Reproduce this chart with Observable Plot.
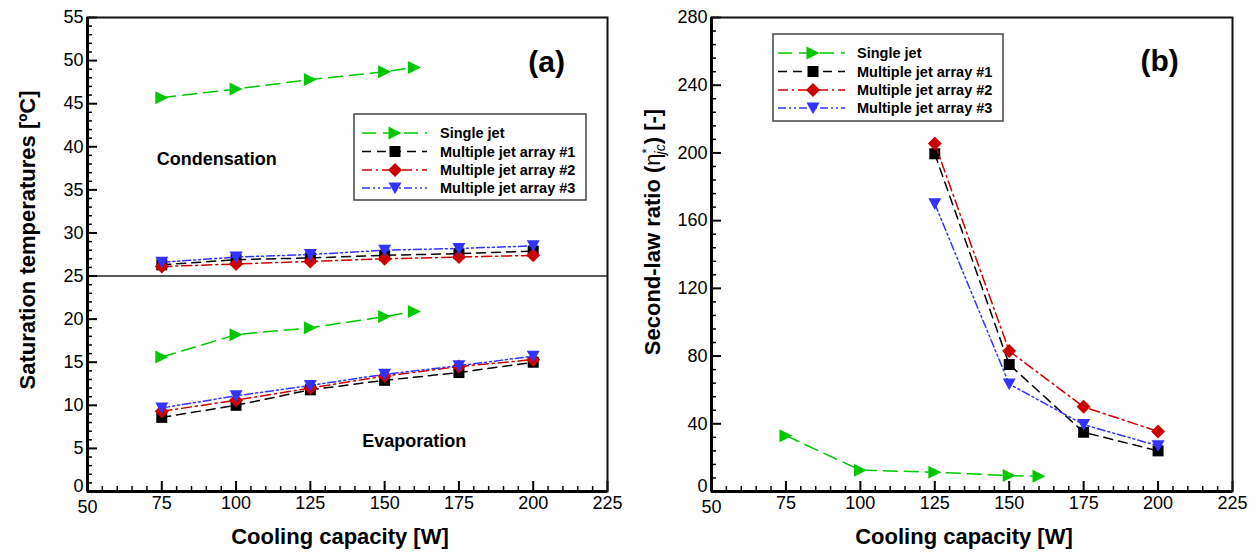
<!DOCTYPE html>
<html><head><meta charset="utf-8">
<script src="https://cdn.jsdelivr.net/npm/d3@7"></script>
<script src="https://cdn.jsdelivr.net/npm/@observablehq/plot@0.6"></script>
<style>
html,body{margin:0;padding:0;background:#fff;}
#wrap{position:relative;width:1256px;height:552px;display:flex;overflow:hidden;}
#wrap svg{display:block;}
</style></head><body><div id="wrap"></div>
<script>
// ---------- data ----------
const seriesNames = ["Single jet", "Multiple jet array #1", "Multiple jet array #2", "Multiple jet array #3"];
const capacity = [75, 100, 125, 150, 175, 200];
const singleCapacity = [75, 100, 125, 150, 160];
// (a) saturation temperatures [ºC]
const condSingle = [45.7, 46.7, 47.8, 48.7, 49.2];
const evapSingle = [15.6, 18.2, 19.0, 20.3, 20.9];
const condM1 = [26.3, 26.9, 27.1, 27.4, 27.6, 27.9];
const condM2 = [26.1, 26.4, 26.7, 27.0, 27.2, 27.4];
const condM3 = [26.6, 27.2, 27.5, 28.0, 28.2, 28.5];
const evapM1 = [8.6, 10.0, 11.8, 12.9, 13.8, 15.0];
const evapM2 = [9.3, 10.6, 12.0, 13.4, 14.5, 15.3];
const evapM3 = [9.7, 11.1, 12.3, 13.6, 14.6, 15.7];
// (b) second-law ratio
const ratioCapacity = [125, 150, 175, 200];
const ratioSingle = [33, 12.6, 11.4, 9.4, 9.0];
const ratioM1 = [199.5, 75, 35, 24];
const ratioM2 = [205.5, 83, 50, 35.5];
const ratioM3 = [170, 63.5, 39.5, 27];
// axes
const xMajorTicks = [50, 75, 100, 125, 150, 175, 200, 225];
const yMajorTicksA = [0, 5, 10, 15, 20, 25, 30, 35, 40, 45, 50, 55];
const yMajorTicksB = [0, 40, 80, 120, 160, 200, 240, 280];

// ---------- styles ----------
const FONT = "'Liberation Sans', Arial, Helvetica, sans-serif";
const colors = ["#00c800", "#000000", "#cc0000", "#3333ff"];
const dashes = ["14,7", "9,6", "10,4,2,4", "8,3,2,3,2,3"];
const symTriRight = {draw(c, s){const r=Math.sqrt(s/Math.PI); c.moveTo(-r,-r); c.lineTo(r,0); c.lineTo(-r,r); c.closePath();}};
const symSquare = {draw(c, s){const r=Math.sqrt(s/Math.PI); c.rect(-r,-r,2*r,2*r);}};
const symDiamond = {draw(c, s){const r=Math.sqrt(s/Math.PI); c.moveTo(0,-r); c.lineTo(r,0); c.lineTo(0,r); c.lineTo(-r,0); c.closePath();}};
const symTriDown = {draw(c, s){const r=Math.sqrt(s/Math.PI); c.moveTo(-r,-0.85*r); c.lineTo(r,-0.85*r); c.lineTo(0,0.95*r); c.closePath();}};
const symbols = [symTriRight, symSquare, symDiamond, symTriDown];
const radii = [6.5, 5.5, 7, 6.5];

const rows = (xs, ys, g) => xs.map((x, i) => ({x, y: ys[i], g}));

function seriesMarks(data, i) {
  return [
    Plot.line(data, {x: "x", y: "y", z: "g", stroke: colors[i], strokeWidth: 1.5, strokeDasharray: dashes[i]}),
    Plot.dot(data, {x: "x", y: "y", symbol: symbols[i], r: radii[i], fill: colors[i], stroke: "none"})
  ];
}

function frameMarks(innerW, innerH, yMajor, yStep, yMax) {
  const xMinor = d3.range(50, 226, 5).filter(v => v % 25 !== 0);
  const yMinor = d3.range(0, yMax + 0.001, yStep).filter(v => !yMajor.includes(v));
  return [
    Plot.tickX(xMinor, {x: d => d, insetTop: innerH - 5, strokeWidth: 1.5}),
    Plot.tickX(xMajorTicks, {x: d => d, insetTop: innerH - 10, strokeWidth: 2}),
    Plot.tickY(yMinor, {y: d => d, insetRight: innerW - 5, strokeWidth: 1.5}),
    Plot.tickY(yMajor, {y: d => d, insetRight: innerW - 10, strokeWidth: 2}),
    Plot.frame({stroke: "#111", strokeWidth: 2}),
    Plot.ruleX([50], {strokeWidth: 3}),
    Plot.ruleY([0], {strokeWidth: 3}),
    Plot.axisX(xMajorTicks.slice(1), {tickSize: 0, tickPadding: 5, fontSize: 18, label: null}),
    Plot.axisX(xMajorTicks.slice(0, 1), {tickSize: 0, tickPadding: 5, dy: 4, fontSize: 18, label: null}),
    Plot.axisY(yMajor.slice(1), {tickSize: 0, tickPadding: 4, fontSize: 18, label: null}),
    Plot.axisY(yMajor.slice(0, 1), {tickSize: 0, tickPadding: 4, dy: -5, fontSize: 18, label: null})
  ];
}

function addLegend(svg, box, rowY, lx1, lx2, mx, tx) {
  const g = d3.select(svg).append("g");
  g.append("rect").attr("x", box[0]).attr("y", box[1]).attr("width", box[2]).attr("height", box[3])
    .attr("fill", "white").attr("stroke", "#444").attr("stroke-width", 1.5);
  seriesNames.forEach((name, i) => {
    const y = rowY[i];
    g.append("line").attr("x1", lx1).attr("x2", lx2).attr("y1", y).attr("y2", y)
      .attr("stroke", colors[i]).attr("stroke-width", 1.5).attr("stroke-dasharray", dashes[i]);
    g.append("path").attr("d", d3.symbol(symbols[i], radii[i] * radii[i] * Math.PI)())
      .attr("transform", `translate(${mx},${y})`).attr("fill", colors[i]);
    g.append("text").attr("x", tx).attr("y", y).attr("dy", "0.35em").attr("text-anchor", "start")
      .attr("font-size", 14.5).attr("font-weight", "bold").attr("font-family", FONT).attr("fill", "#000").text(name);
  });
}

function addText(svg, x, y, txt, size, rot) {
  const t = d3.select(svg).append("text")
    .attr("transform", `translate(${x},${y})` + (rot ? ` rotate(${rot})` : ""))
    .attr("text-anchor", "middle").attr("dy", "0.35em")
    .attr("font-size", size).attr("font-weight", "bold").attr("font-family", FONT).attr("fill", "#000");
  if (typeof txt === "string") t.text(txt);
  return t;
}

const W = 628, H = 552;
const wrap = document.getElementById("wrap");

// ---------- panel (a) ----------
{
  const mL = 87, mR = 21, mT = 17, mB = 61;
  const iw = W - mL - mR, ih = H - mT - mB;
  const data = [
    [...rows(singleCapacity, condSingle, "c"), ...rows(singleCapacity, evapSingle, "e")],
    [...rows(capacity, condM1, "c"), ...rows(capacity, evapM1, "e")],
    [...rows(capacity, condM2, "c"), ...rows(capacity, evapM2, "e")],
    [...rows(capacity, condM3, "c"), ...rows(capacity, evapM3, "e")]
  ];
  const notes = [
    {x: 93.5, y: 38.5, t: "Condensation", s: 18},
    {x: 160, y: 5.8, t: "Evaporation", s: 18},
    {x: 204.5, y: 49.8, t: "(a)", s: 30}
  ];
  const p = Plot.plot({
    width: W, height: H, marginLeft: mL, marginRight: mR, marginTop: mT, marginBottom: mB,
    style: {fontFamily: FONT, color: "#000", background: "#fff", overflow: "visible"},
    x: {domain: [50, 225]}, y: {domain: [0, 55]},
    marks: [
      Plot.ruleY([25], {stroke: "#222", strokeWidth: 1.5}),
      ...frameMarks(iw, ih, yMajorTicksA, 1, 55),
      ...data.flatMap((d, i) => seriesMarks(d, i)),
      Plot.text(notes, {x: "x", y: "y", text: "t", fontSize: "s", fontWeight: "bold", fill: "#000"})
    ]
  });
  wrap.appendChild(p);
  addLegend(p, [354, 114, 232, 86], [133, 151.5, 170, 188], 362, 427, 395, 440);
  addText(p, 27, 240, "Saturation temperatures [ºC]", 22, -90);
  addText(p, 340, 536, "Cooling capacity [W]", 22, 0);
}

// ---------- panel (b) ----------
{
  const mL = 83, mR = 24, mT = 17, mB = 61;
  const iw = W - mL - mR, ih = H - mT - mB;
  const data = [
    rows(singleCapacity, ratioSingle, "s"),
    rows(ratioCapacity, ratioM1, "s"),
    rows(ratioCapacity, ratioM2, "s"),
    rows(ratioCapacity, ratioM3, "s")
  ];
  const notes = [{x: 200.5, y: 254, t: "(b)", s: 30}];
  const p = Plot.plot({
    width: W, height: H, marginLeft: mL, marginRight: mR, marginTop: mT, marginBottom: mB,
    style: {fontFamily: FONT, color: "#000", background: "#fff", overflow: "visible"},
    x: {domain: [50, 225]}, y: {domain: [0, 280]},
    marks: [
      ...frameMarks(iw, ih, yMajorTicksB, 8, 280),
      ...data.flatMap((d, i) => seriesMarks(d, i)),
      Plot.text(notes, {x: "x", y: "y", text: "t", fontSize: "s", fontWeight: "bold", fill: "#000"})
    ]
  });
  wrap.appendChild(p);
  addLegend(p, [145, 34, 230, 87], [53, 71.5, 90, 108], 150, 217, 185, 229);
  const t = addText(p, 24, 232, null, 22, -90);
  t.append("tspan").text("Second-law ratio (");
  t.append("tspan").attr("font-weight", "normal").text("η");
  t.append("tspan").attr("font-weight", "normal").attr("font-size", 13).attr("dy", -9).text("*");
  t.append("tspan").attr("font-weight", "normal").attr("font-style", "italic").attr("font-size", 14).attr("dx", -6).attr("dy", 14).text("jc");
  t.append("tspan").attr("dy", -5).text(") [-]");
  addText(p, 336, 536, "Cooling capacity [W]", 22, 0);
}
</script>
</body></html>
